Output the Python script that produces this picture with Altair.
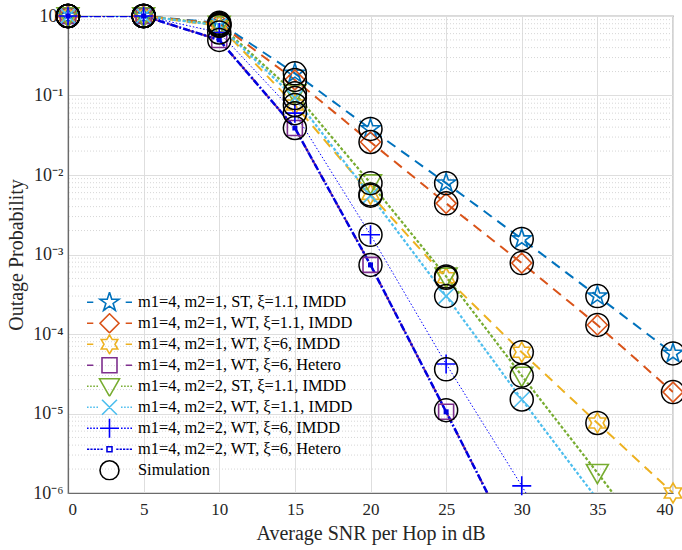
import math
import altair as alt
import pandas as pd

# ---------------- data ----------------
snr = [0, 5, 10, 15, 20, 25, 30, 35, 40]

names = [
    "m1=4, m2=1, ST, ξ=1.1, IMDD",
    "m1=4, m2=1, WT, ξ=1.1, IMDD",
    "m1=4, m2=1, WT, ξ=6, IMDD",
    "m1=4, m2=1, WT, ξ=6, Hetero",
    "m1=4, m2=2, ST, ξ=1.1, IMDD",
    "m1=4, m2=2, WT, ξ=1.1, IMDD",
    "m1=4, m2=2, WT, ξ=6, IMDD",
    "m1=4, m2=2, WT, ξ=6, Hetero",
]
sim_name = "Simulation"

theory_a = [1, 1, 0.82, 0.19, 0.038, 0.0079, 1.57e-3, 3.0e-4, 5.7e-5]
theory_b = [1, 1, 0.80, 0.157, 0.026, 0.0044, 7.8e-4, 1.3e-4, 1.86e-5]
theory_c = [1, 1, 0.75, 0.076, 0.0057, 5.1e-4, 5.9e-5, 7.6e-6, 1.0e-6]
theory_d = [1, 1, 0.50, 0.039, 7.4e-4, 1.05e-5, 1.4e-7, None, None]
theory_e = [1, 1, 0.78, 0.107, 0.0079, 5.3e-4, 3.0e-5, 1.8e-6, 1.0e-7]
theory_f = [1, 1, 0.76, 0.093, 0.0055, 3.0e-4, 1.5e-5, 8.3e-7, None]
theory_g = [1, 1, 0.62, 0.06, 1.77e-3, 4.2e-5, 1.23e-6, 3e-8, None]
theory_h = [1, 1, 0.50, 0.039, 7.4e-4, 1.05e-5, 1.4e-7, None, None]

sim_a = [1, 1, 0.82, 0.19, 0.038, 0.0079, 1.57e-3, 3.0e-4, 5.7e-5]
sim_b = [1, 1, 0.80, 0.157, 0.026, 0.0044, 7.8e-4, 1.3e-4, 1.86e-5]
sim_c = [1, 1, 0.75, 0.076, 0.0057, 5.1e-4, 5.9e-5, 7.6e-6, None]
sim_d = [1, 1, 0.50, 0.039, 7.4e-4, 1.1e-5, None, None, None]
sim_e = [1, 1, 0.78, 0.107, 0.0079, 5.3e-4, 3.0e-5, None, None]
sim_f = [1, 1, 0.76, 0.093, 0.0055, 3.0e-4, 1.5e-5, None, None]
sim_g = [1, 1, 0.62, 0.06, 1.77e-3, 3.6e-5, None, None, None]

theories = [theory_a, theory_b, theory_c, theory_d, theory_e, theory_f, theory_g, theory_h]
sims = [sim_a, sim_b, sim_c, sim_d, sim_e, sim_f, sim_g]

x_ticks = [0, 5, 10, 15, 20, 25, 30, 35, 40]
y_ticks = [1e-6, 1e-5, 1e-4, 1e-3, 1e-2, 1e-1, 1]
minor_ticks = [m * 10.0 ** e for e in range(-6, 0) for m in range(2, 10)]

# ---------------- styles ----------------
colors = ["#0072BD", "#D95319", "#EDB120", "#7E2F8E", "#77AC30", "#4DBEEE", "#0000FF", "#0000E0"]
dashes = [[10, 7], [10, 7], [10, 7], [10, 7], [3, 2], [3, 2], [1.5, 2], [7, 2, 2, 2]]
widths = [2, 2, 2, 2, 2.2, 2.2, 1, 2.5]
leg_styles = ["dash", "dash", "dash", "dash", "dot", "dot", "dot", "dashdot"]


def fmt(v):
    return f"{v:.3f}"


def poly(pts):
    return "M" + "L".join(f"{fmt(x)},{fmt(y)}" for x, y in pts) + "Z"


def star(n, rin, s=1.0):
    pts = []
    for k in range(2 * n):
        ang = -math.pi / 2 + k * math.pi / n
        r = s if k % 2 == 0 else s * rin
        pts.append((r * math.cos(ang), r * math.sin(ang)))
    return poly(pts)


def marker_path(kind, s=1.0):
    if kind == "pent":
        return star(5, 0.382, s)
    if kind == "hex":
        return star(6, 0.577, s)
    if kind == "diamond":
        return poly([(0, -s), (s, 0), (0, s), (-s, 0)])
    if kind == "square":
        return poly([(-s, -s), (s, -s), (s, s), (-s, s)])
    if kind == "tri":
        return poly([(-s, -0.75 * s), (s, -0.75 * s), (0, s)])
    if kind == "x":
        return f"M{fmt(-s)},{fmt(-s)}L{fmt(s)},{fmt(s)}M{fmt(-s)},{fmt(s)}L{fmt(s)},{fmt(-s)}"
    if kind == "plus":
        return f"M{fmt(-s)},0L{fmt(s)},0M0,{fmt(-s)}L0,{fmt(s)}"
    if kind == "circle":
        return (f"M{fmt(s)},0A{fmt(s)},{fmt(s)} 0 1,1 {fmt(-s)},0"
                f"A{fmt(s)},{fmt(s)} 0 1,1 {fmt(s)},0Z")
    return poly([(-s, -s), (s, -s), (s, s), (-s, s)])


kinds = ["pent", "diamond", "hex", "square", "tri", "x", "plus", "small"]
marker_px = [20, 20, 20, 15, 22, 15, 19, 5]
leg_marker_px = [20, 19, 19, 15, 20, 15, 19, 5]
sim_px = 23
leg_sim_px = 19

LEG_W = 45.0


def seg_path(style, half_gap):
    segs = []
    if style == "dash":
        segs = [(-1, -0.72), (0.72, 1)]
    elif style == "dot":
        x = -1.0
        while x + 0.07 <= -half_gap:
            segs.append((x, x + 0.07))
            segs.append((-x - 0.07, -x))
            x += 0.14
    elif style == "dashdot":
        x = -1.0
        while x + 0.1 <= -half_gap:
            segs.append((x, x + 0.1))
            segs.append((-x - 0.1, -x))
            x += 0.15
    return "".join(f"M{fmt(a)},0L{fmt(b)},0" for a, b in segs)


leg_paths = []
for k, px, st in zip(kinds, leg_marker_px, leg_styles):
    s = (px / 2) / (LEG_W / 2)
    gap = s + 0.05
    leg_paths.append(seg_path(st, gap) + marker_path("square" if k == "small" else k, s))
leg_paths.append(marker_path("circle", (leg_sim_px / 2) / (LEG_W / 2)))

# ---------------- tables ----------------
rows = []
for name, vals in zip(names, theories):
    for x, v in zip(snr, vals):
        if v is not None:
            rows.append({"series": name, "snr": x, "p": v})
theory_df = pd.DataFrame(rows)

srows = []
for name, vals in zip(names, sims):
    for x, v in zip(snr, vals):
        if v is not None and v >= 1e-6:
            srows.append({"series": name, "snr": x, "p": v})
sim_df = pd.DataFrame(srows)

legend_df = pd.DataFrame({"series": names + [sim_name], "snr": [-50] * 9, "p": [0.5] * 9})
minor_df = pd.DataFrame({"p": minor_ticks})

# ---------------- scales / axes ----------------
FONT = "Liberation Serif"
xscale = alt.Scale(domain=[0, 40], nice=False, zero=False)
yscale = alt.Scale(type="log", domain=[1e-6, 1], nice=False)

label_expr = ("datum.value >= 0.5 ? '10⁰' : datum.value >= 0.05 ? '10⁻¹' : "
              "datum.value >= 0.005 ? '10⁻²' : datum.value >= 0.0005 ? '10⁻³' : "
              "datum.value >= 0.00005 ? '10⁻⁴' : datum.value >= 0.000005 ? '10⁻⁵' : '10⁻⁶'")

x_axis = alt.Axis(values=x_ticks, title="Average SNR per Hop in dB", format="d",
                  labelFont=FONT, labelFontSize=17, labelColor="#262626",
                  titleFont=FONT, titleFontSize=20, titleFontWeight="normal", titleColor="#262626",
                  grid=True, gridColor="#dedede", domainColor="#6b6b6b", domainWidth=1.2,
                  ticks=False, labelPadding=8, titlePadding=6)
y_axis = alt.Axis(values=y_ticks, title="Outage Probability", labelExpr=label_expr,
                  labelFont=FONT, labelFontSize=18, labelColor="#262626",
                  titleFont=FONT, titleFontSize=20, titleFontWeight="normal", titleColor="#262626",
                  grid=True, gridColor="#dedede", domainColor="#6b6b6b", domainWidth=1.2,
                  ticks=False, labelPadding=5, titlePadding=6)


def X():
    return alt.X("snr:Q", scale=xscale, axis=x_axis)


def Y():
    return alt.Y("p:Q", scale=yscale, axis=y_axis)


layers = []

minor = alt.Chart(minor_df).mark_rule(color="#d6d6d6", strokeDash=[1, 2], strokeWidth=1).encode(
    y=alt.Y("p:Q", scale=yscale, axis=y_axis)
)
layers.append(minor)

for i, name in enumerate(names):
    base = alt.Chart(theory_df).transform_filter(alt.datum.series == name)
    line = base.mark_line(clip=True, color=colors[i], strokeDash=dashes[i],
                          strokeWidth=widths[i]).encode(x=X(), y=Y())
    layers.append(line)

for i, name in enumerate(names):
    base = alt.Chart(theory_df).transform_filter(
        (alt.datum.series == name) & (alt.datum.p >= 1e-6))
    if kinds[i] == "small":
        pts = base.mark_point(shape="square", size=marker_px[i] ** 2, filled=True,
                              color=colors[i], opacity=1)
    else:
        pts = base.mark_point(shape=marker_path(kinds[i]), size=marker_px[i] ** 2,
                              filled=False, color=colors[i], strokeWidth=1.6, opacity=1)
    layers.append(pts.encode(x=X(), y=Y()))

sim_layer = alt.Chart(sim_df).mark_point(shape="circle", size=sim_px ** 2, filled=False,
                                         color="#000000", strokeWidth=1.5, opacity=1).encode(x=X(), y=Y())
layers.append(sim_layer)

legend = alt.Legend(title=None, orient="none", legendX=18, legendY=276,
                    symbolSize=LEG_W ** 2, symbolStrokeWidth=1.6, symbolFillColor="transparent",
                    labelFont=FONT, labelFontSize=16.4, labelColor="#000000", labelLimit=0,
                    clipHeight=20.6, rowPadding=0, labelOffset=5, padding=0, symbolOffset=0)

leg_layer = alt.Chart(legend_df).mark_point(filled=False, clip=True, opacity=1, strokeWidth=1.6).encode(
    x=X(), y=Y(),
    color=alt.Color("series:N", scale=alt.Scale(domain=names + [sim_name], range=colors + ["#000000"]),
                    legend=legend),
    shape=alt.Shape("series:N", scale=alt.Scale(domain=names + [sim_name], range=leg_paths),
                    legend=legend),
)
layers.append(leg_layer)

chart = alt.layer(*layers).properties(
    width=605, height=477,
    autosize=alt.AutoSizeParams(type="none"),
    padding={"left": 68, "top": 16, "right": 9, "bottom": 57},
    background="white",
).configure_view(stroke="#6b6b6b", strokeWidth=1.2)

chart.save("out.html", embed_options={"renderer": "svg", "actions": False})
